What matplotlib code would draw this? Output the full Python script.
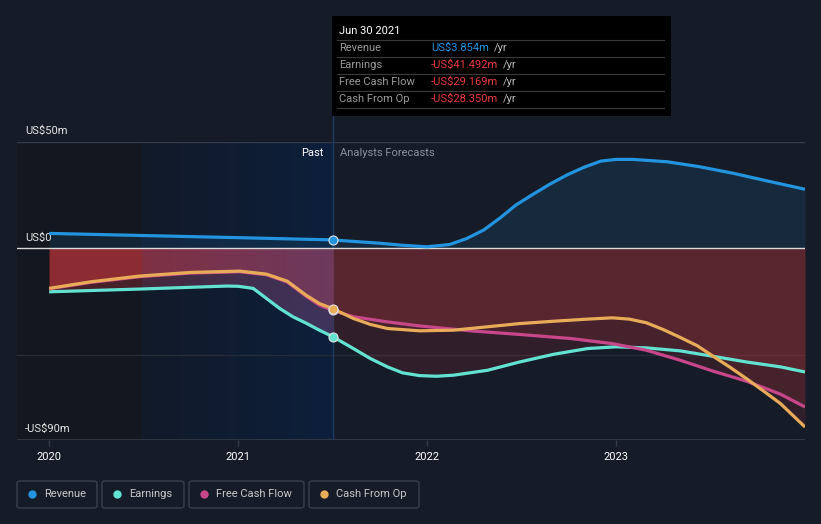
import numpy as np
import matplotlib
matplotlib.use('Agg')
import matplotlib.pyplot as plt
from matplotlib.colors import LinearSegmentedColormap, to_rgb
from matplotlib.patches import Rectangle, FancyBboxPatch
from matplotlib.lines import Line2D
from matplotlib import transforms

plt.rcParams['font.family'] = ['Roboto', 'DejaVu Sans']

# values (US$ m), x in decimal years
rev_x = [2020.0, 2020.5, 2021.0, 2021.5, 2021.6, 2021.75, 2021.86, 2022.0, 2022.12, 2022.21, 2022.30,
         2022.39, 2022.47, 2022.56, 2022.65, 2022.74, 2022.83, 2022.92, 2023.0, 2023.09, 2023.27,
         2023.44, 2023.62, 2023.80, 2024.0]
rev_y = [6.9, 5.9, 4.9, 3.854, 3.2, 2.3, 1.4, 0.6, 1.7, 4.5, 8.5,
         14.4, 20.2, 25.2, 30.0, 34.3, 37.9, 40.8, 41.6, 41.6, 40.5,
         38.2, 35.1, 31.5, 27.6]

earn_x = [2020.0, 2020.48, 2020.94, 2021.0, 2021.08, 2021.15, 2021.22, 2021.29, 2021.36, 2021.43, 2021.5,
          2021.61, 2021.70, 2021.79, 2021.87, 2021.96, 2022.05, 2022.14, 2022.32, 2022.49, 2022.67,
          2022.85, 2023.0, 2023.16, 2023.34, 2023.51, 2023.69, 2023.87, 2024.0]
earn_y = [-20.5, -19.2, -17.8, -17.9, -18.9, -23.6, -28.3, -32.2, -35.2, -38.5, -41.492,
          -47.1, -51.8, -55.7, -58.5, -59.8, -60.1, -59.6, -57.3, -53.4, -49.8,
          -47.1, -46.3, -46.8, -48.2, -50.7, -53.4, -55.7, -58.1]

fcf_x = [2020.0, 2020.22, 2020.48, 2020.75, 2021.01, 2021.15, 2021.26, 2021.36, 2021.43, 2021.5,
         2021.61, 2021.79, 2021.96, 2022.23, 2022.49, 2022.76, 2022.98, 2023.16, 2023.34, 2023.51,
         2023.69, 2023.87, 2024.0]
fcf_y = [-19.1, -16.1, -13.4, -11.7, -11.1, -12.5, -15.9, -22.6, -26.7, -29.169,
         -32.2, -34.6, -36.5, -38.8, -40.5, -42.4, -44.8, -47.9, -52.6, -57.6,
         -62.4, -68.5, -74.5]

cfo_x = [2020.0, 2020.22, 2020.48, 2020.75, 2021.01, 2021.15, 2021.26, 2021.36, 2021.43, 2021.5,
         2021.61, 2021.70, 2021.79, 2021.96, 2022.14, 2022.32, 2022.49, 2022.67, 2022.85, 2022.98,
         2023.07, 2023.16, 2023.25, 2023.34, 2023.43, 2023.51, 2023.60, 2023.69, 2023.78, 2023.87, 2024.0]
cfo_y = [-18.9, -15.8, -13.1, -11.4, -10.8, -12.2, -15.5, -22.1, -26.0, -28.35,
         -33.0, -35.8, -37.7, -38.8, -38.5, -36.9, -35.4, -34.3, -33.3, -32.7,
         -33.3, -35.0, -38.2, -41.9, -45.8, -50.5, -55.7, -61.2, -67.0, -72.9, -83.9]

series_names = ['Revenue', 'Earnings', 'Free Cash Flow', 'Cash From Op']
series_colors = ['#2394df', '#62e3d2', '#c8478a', '#e8ab58']
tip_values = ['US$3.854m', '-US$41.492m', '-US$29.169m', '-US$28.350m']
tip_date = 'Jun 30 2021'
year_ticks = [2020, 2021, 2022, 2023]
y_labels = {50: 'US$50m', 0: 'US$0', -90: '-US$90m'}
now_x = 2021.5

bg = '#161c27'
W, H = 821, 524
fig = plt.figure(figsize=(W / 100, H / 100), dpi=100, facecolor=bg)


def fx(px):
    return px / W


def fy(py):
    return 1 - py / H


ax = fig.add_axes([fx(17), fy(440), fx(805 - 17), (440 - 141.5) / H])
ax.set_facecolor(bg)
ax.set_xlim(2019.83, 2024.0)
ax.set_ylim(-90, 50)
for s in ax.spines.values():
    s.set_visible(False)

# darker area before past window, blue gradient for past window
ax.axvspan(2019.83, 2020.49, color='#13171f', zorder=0, lw=0)
grad = np.linspace(0, 1, 200).reshape(1, -1)
cmap = LinearSegmentedColormap.from_list('past', ['#121a29', '#0c1f3b'])
ax.imshow(grad, extent=[2020.49, now_x, -90, 50], aspect='auto', cmap=cmap, zorder=0.5)

ax.axhline(50, color='#363c47', lw=1, zorder=1)
ax.axhline(-50, color='#262c37', lw=1, zorder=1)
ax.axhline(-90, color='#363c47', lw=1.2, zorder=1)
ax.axvline(now_x, color='#1c3a63', lw=1, zorder=1)
fig.add_artist(Line2D([fx(332.5), fx(332.5)], [fy(116), fy(141.5)], color='#1c3a63', lw=1, zorder=1))

# fills
data = [(rev_x, rev_y), (earn_x, earn_y), (fcf_x, fcf_y), (cfo_x, cfo_y)]
clip_poly = None
for i, (xs, ys) in enumerate(data):
    xs = np.array(xs)
    ys = np.array(ys)
    past = xs <= now_x
    fut = xs >= now_x
    if i == 0:
        ax.fill_between(xs, 0, ys, color='#2394df', alpha=0.12, lw=0, zorder=2)
    else:
        pc = ax.fill_between(xs[past], 0, ys[past], color='#e03a40', alpha=0.26, lw=0, zorder=2)
        ax.fill_between(xs[fut], 0, ys[fut], color='#e03a40', alpha=0.13, lw=0, zorder=2)
        if i == 1:
            clip_poly = pc

# bluish tint over the past fills, growing toward the now line
rgba = np.zeros((1, 200, 4))
rgba[..., :3] = to_rgb('#3a4f9a')
rgba[..., 3] = np.linspace(0, 0.35, 200) * (np.linspace(2019.83, now_x, 200) > 2020.49)
im = ax.imshow(rgba, extent=[2019.83, now_x, -90, 50], aspect='auto', zorder=2.5)
im.set_clip_path(clip_poly.get_paths()[0], ax.transData)

ax.axhline(0, color='#d9d9d9', lw=1, zorder=3)

# lines
for i in [1, 2, 3, 0]:
    xs, ys = data[i]
    ax.plot(xs, ys, color=series_colors[i], lw=2.3, zorder=4, solid_capstyle='butt')

# markers at the now line
for i in [0, 2, 3, 1]:
    xs, ys = data[i]
    ax.plot(now_x, ys[xs.index(now_x)], 'o', ms=6.5, color=series_colors[i], mec='#e0e0e0', mew=0.8, zorder=5)

# y labels inside axes
tr = transforms.blended_transform_factory(ax.transAxes, ax.transData)
for v, lab in y_labels.items():
    ax.annotate(lab, xy=(fx(25 - 17) / fx(805 - 17), v), xycoords=tr, xytext=(0, 4),
                textcoords='offset points', color='#e6e6e6', fontsize=8, va='bottom', ha='left', zorder=3.5)

ax.text(now_x - 0.05, 47, 'Past', color='#ffffff', fontsize=8, ha='right', va='top', zorder=6)
ax.text(now_x + 0.04, 47, 'Analysts Forecasts', color='#8a8f98', fontsize=8, ha='left', va='top', zorder=6)

ax.set_yticks([])
ax.set_xticks(year_ticks)
ax.set_xticklabels([str(t) for t in year_ticks])
ax.tick_params(axis='x', colors='#363c47', labelcolor='#ffffff', labelsize=8, length=4, width=1, pad=5)

# tooltip
fig.patches.append(Rectangle((fx(332), fy(116)), fx(671 - 332), (116 - 16) / H,
                             transform=fig.transFigure, facecolor='#000000', edgecolor='none', zorder=10))
fig.text(fx(339), fy(31), tip_date, color='#ffffff', fontsize=8, va='center', ha='left', zorder=11)
for ly in [40, 57, 74, 91, 108]:
    fig.add_artist(Line2D([fx(337), fx(664)], [fy(ly), fy(ly)], color='#3a3a3a', lw=0.8, zorder=11))
val_texts = []
for k, name in enumerate(series_names):
    yy = fy(48 + 17 * k)
    fig.text(fx(339), yy, name, color='#9a9a9a', fontsize=8, va='center', ha='left', zorder=11)
    col = '#2394df' if k == 0 else '#ea3c3c'
    val_texts.append(fig.text(fx(431), yy, tip_values[k], color=col, fontsize=8, va='center', ha='left', zorder=11))

fig.canvas.draw()
r = fig.canvas.get_renderer()
for t in val_texts:
    bb = t.get_window_extent(r)
    fig.text(bb.x1 / W + fx(5), t.get_position()[1], '/yr', color='#bdbdbd', fontsize=8,
             va='center', ha='left', zorder=11)

# legend boxes
boxes = [(17, 97), (102, 184), (189, 304), (309, 419)]
for k, (x0, x1) in enumerate(boxes):
    fig.patches.append(FancyBboxPatch((fx(x0), fy(508)), fx(x1 - x0), 27 / H,
                                      boxstyle='round,pad=0,rounding_size=0.004', transform=fig.transFigure,
                                      facecolor='none', edgecolor='#3a404b', lw=1))
    fig.add_artist(Line2D([fx(x0 + 15)], [fy(494)], marker='o', ms=6, color=series_colors[k], mec='none'))
    fig.text(fx(x0 + 27), fy(494), series_names[k], color='#c8c8c8', fontsize=8, va='center', ha='left')

fig.savefig('out.png', dpi=100, facecolor=bg)
